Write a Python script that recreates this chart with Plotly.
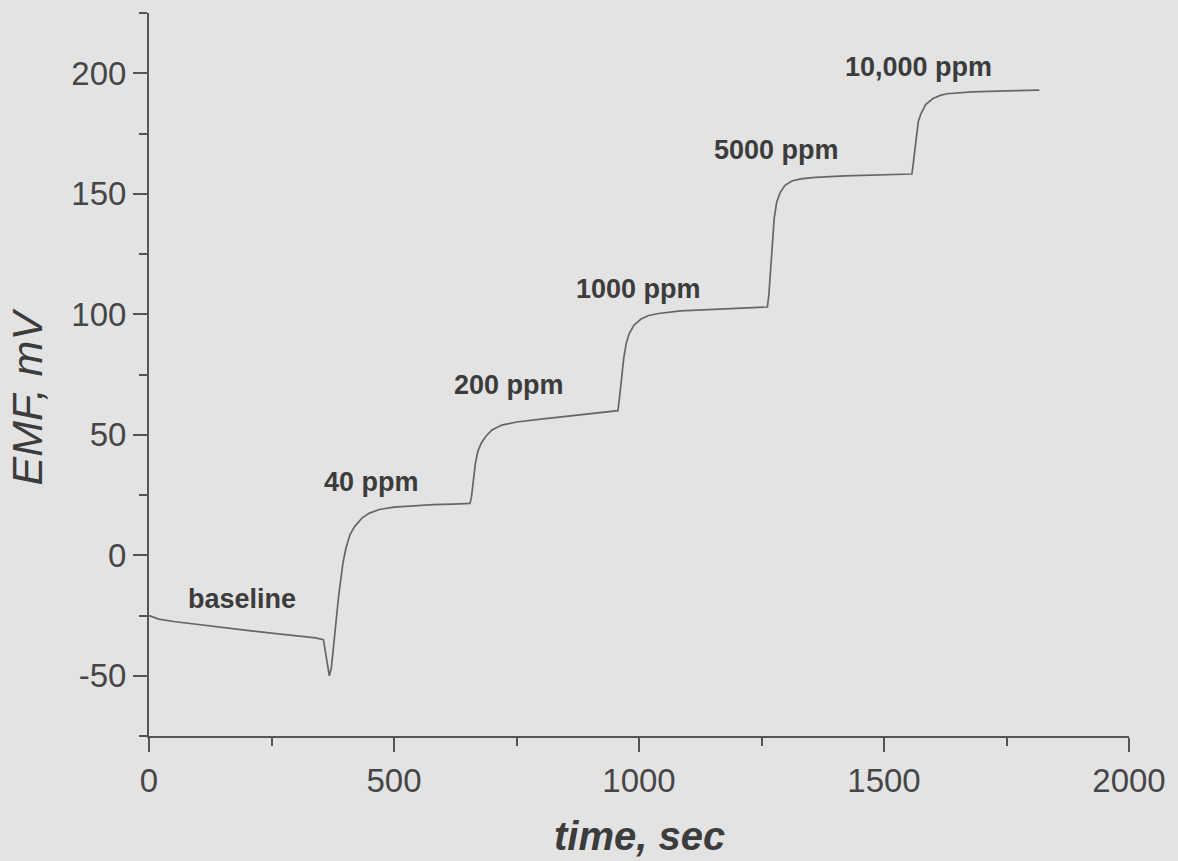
import plotly.graph_objects as go

# time (s) and EMF (mV)
time_s = [0, 20, 50, 100, 150, 200, 250, 300, 340, 356,
          360, 364, 368, 372, 377, 382, 387, 391, 396, 402, 410, 420, 435, 450, 470, 500, 540, 580, 620, 655,
          658, 662, 666, 671, 678, 688, 700, 720, 750, 800, 850, 900, 957,
          960, 964, 969, 974, 980, 990, 1004, 1020, 1040, 1085, 1150, 1200, 1262,
          1265, 1268, 1272, 1276, 1281, 1288, 1298, 1312, 1330, 1360, 1420, 1500, 1557,
          1560, 1565, 1570, 1575, 1585, 1600, 1615, 1628, 1680, 1750, 1817]
emf_mv = [-25, -26.5, -27.5, -28.8, -30, -31.2, -32.3, -33.4, -34.3, -35,
          -40, -46, -50, -47, -38, -27, -17, -10, -3, 3, 8.5, 12, 15.5, 17.5, 19, 20, 20.6, 21, 21.2, 21.5,
          24, 30, 38, 43, 46.5, 49.5, 52, 54, 55.3, 56.5, 57.7, 58.8, 60,
          65, 73, 82, 88, 92, 95.5, 98, 99.5, 100.3, 101.4, 102, 102.5, 103,
          108, 118, 130, 140, 146.5, 150.5, 153.5, 155.3, 156.2, 156.8, 157.4, 157.8, 158.2,
          163, 172, 180, 183, 187, 189.5, 190.8, 191.5, 192.3, 192.7, 193]

label_text = ["baseline", "40 ppm", "200 ppm", "1000 ppm", "5000 ppm", "10,000 ppm"]
label_t = [189, 455, 734, 998, 1280, 1571]
label_v = [-18.1, 30.4, 70.7, 110.5, 168.2, 202.6]

x_ticks = [0, 500, 1000, 1500, 2000]
y_ticks = [-50, 0, 50, 100, 150, 200]

BG = "#e3e3e3"
AX = "#555555"
TXT = "#3c3c3c"

W, H = 1178, 861
L, R, T, B = 149, 45, 13, 125
pw, ph = W - L - R, H - T - B

fig = go.Figure()
fig.add_trace(go.Scatter(x=time_s, y=emf_mv, mode="lines",
                         line=dict(color="#666666", width=1.7), showlegend=False))

for txt, t, v in zip(label_text, label_t, label_v):
    fig.add_annotation(x=t, y=v, xref="x", yref="y", text=txt, showarrow=False,
                       font=dict(family="Arial", size=27, color=TXT, weight="bold"),
                       xanchor="center", yanchor="middle")

# axis titles placed by pixel position, converted to paper coordinates
fig.add_annotation(x=(27 - L) / pw, y=1 - (396 - T) / ph, xref="paper", yref="paper",
                   text="EMF, mV", showarrow=False, textangle=-90,
                   xanchor="center", yanchor="middle",
                   font=dict(family="Arial", size=43, color=TXT, style="italic"))
fig.add_annotation(x=(641 - L) / pw, y=1 - (836 - T) / ph, xref="paper", yref="paper",
                   text="time, sec", showarrow=False,
                   xanchor="center", yanchor="middle",
                   font=dict(family="Arial", size=40, color=TXT, style="italic", weight="bold"))

axis_common = dict(showline=True, linecolor=AX, linewidth=2, ticks="outside", ticklen=14,
                   tickwidth=2, tickcolor=AX, showgrid=False, zeroline=False,
                   tickfont=dict(family="Arial", size=33, color="#464646"))

fig.update_xaxes(range=[0, 2000], tickvals=x_ticks, ticktext=[str(v) for v in x_ticks],
                 minor=dict(ticks="outside", ticklen=8, tickwidth=2, tickcolor=AX, dtick=250, tick0=0),
                 **axis_common)
fig.update_yaxes(range=[-75, 225], tickvals=y_ticks, ticktext=[str(v) for v in y_ticks],
                 minor=dict(ticks="outside", ticklen=8, tickwidth=2, tickcolor=AX, dtick=25, tick0=0),
                 **axis_common)

fig.update_layout(width=W, height=H, margin=dict(l=L, r=R, t=T, b=B, pad=0),
                  paper_bgcolor=BG, plot_bgcolor=BG, showlegend=False)

fig.write_html("out.html")
